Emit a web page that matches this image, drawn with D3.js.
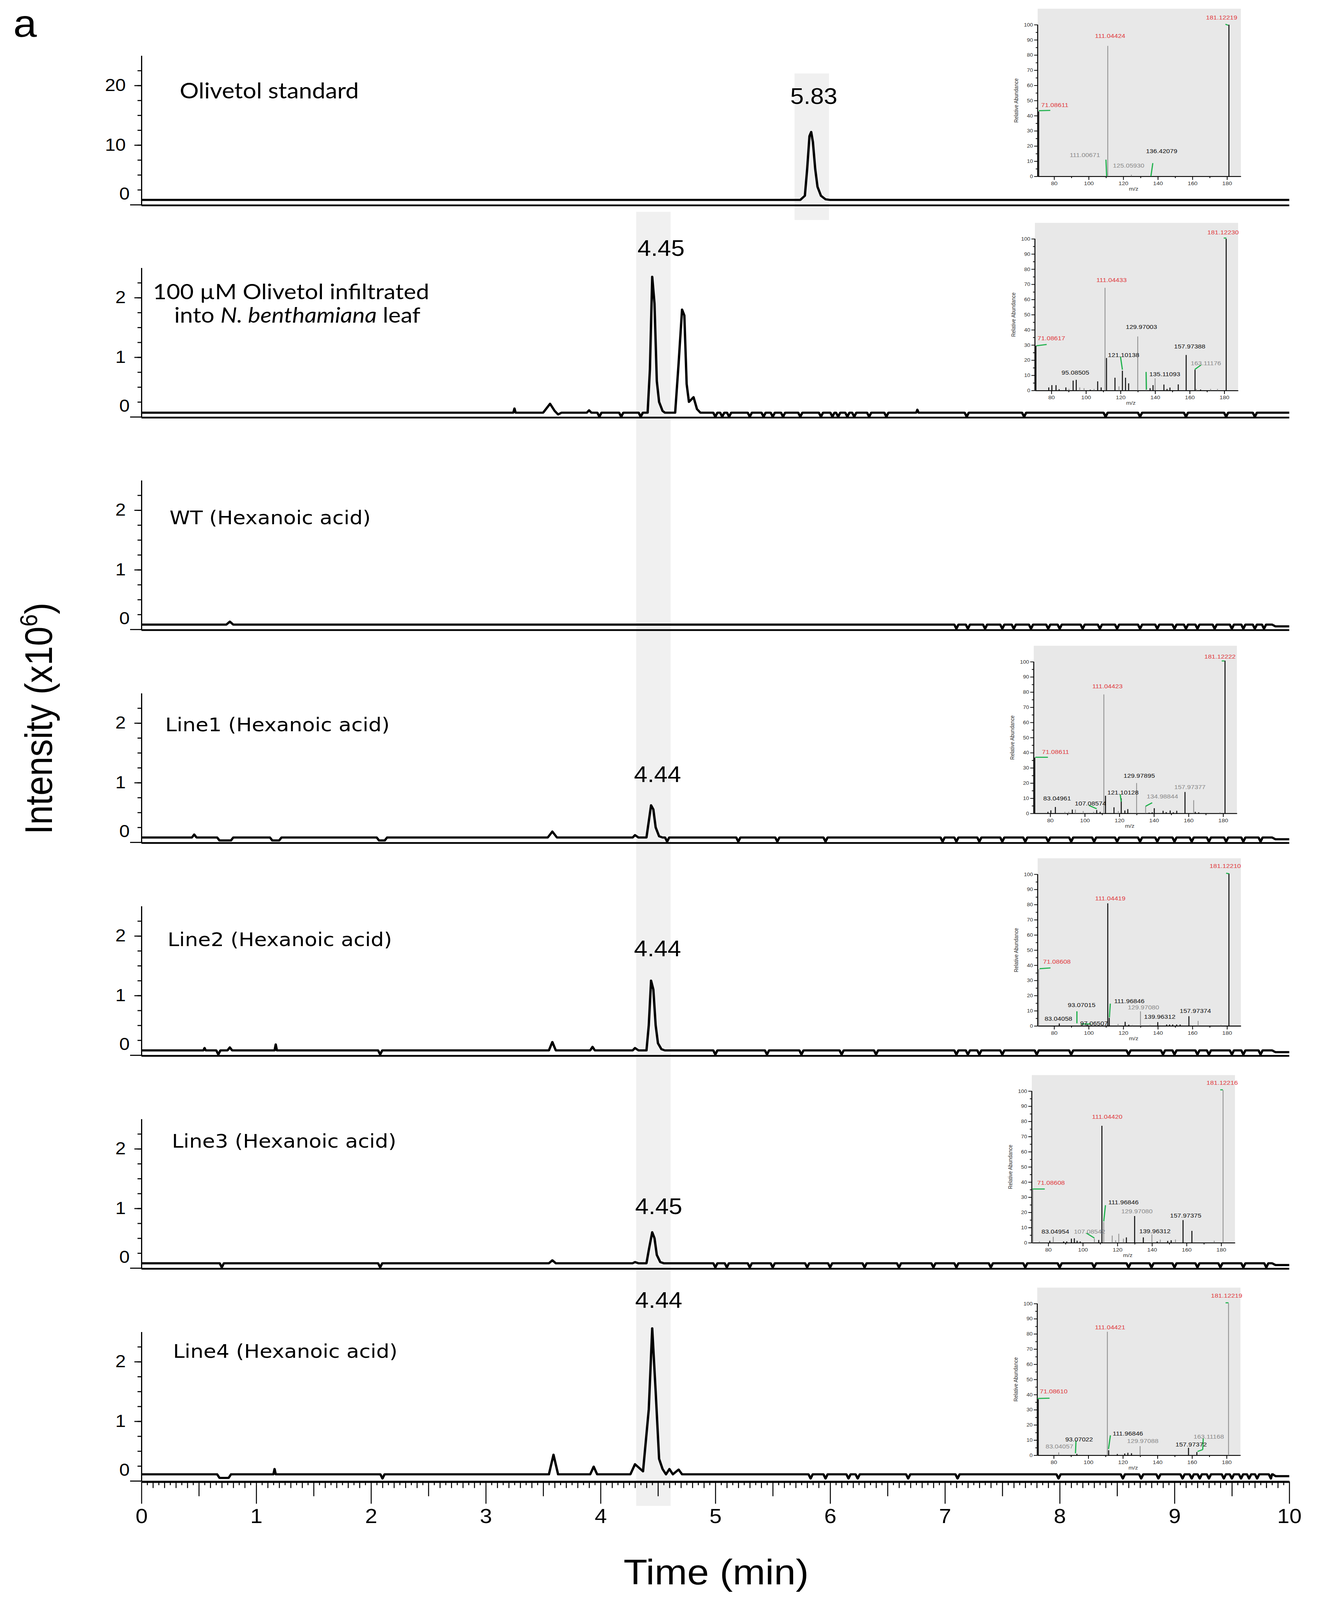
<!DOCTYPE html>
<html>
<head>
<meta charset="utf-8">
<script src="https://cdn.jsdelivr.net/npm/d3@7"></script>
<style>
  html, body { margin: 0; padding: 0; background: #fff; overflow: hidden; }
  svg { display: block; }
</style>
</head>
<body>
<div id="chart"></div>
<script>
// ---------------- data ----------------
const timeTicks = d3.range(0, 11);
const panelTitles = [
  "Olivetol standard",
  "100 µM Olivetol infiltrated",
  "WT (Hexanoic acid)",
  "Line1 (Hexanoic acid)",
  "Line2 (Hexanoic acid)",
  "Line3 (Hexanoic acid)",
  "Line4 (Hexanoic acid)"
];
const yMaxes = [25, 2.5, 2.5, 2.5, 2.5, 2.5, 2.5];
const yMinorSteps = [2.5, 0.25, 0.25, 0.25, 0.25, 0.25, 0.25];
const yLabelValues = [[0, 10, 20], [0, 1, 2], [0, 1, 2], [0, 1, 2], [0, 1, 2], [0, 1, 2], [0, 1, 2]];
const peakTimes = ["5.83", "4.45", null, "4.44", "4.44", "4.45", "4.44"];

// baseline level of each trace (x10^6)
const baseLevels = [0.8, 0.07, 0.08, 0.08, 0.08, 0.08, 0.11];

// explicit trace points [time, intensity]
const traceOlivetol = [[0, 0.8], [5.74, 0.8], [5.78, 1.5], [5.80, 6], [5.82, 11.5], [5.835, 12.2], [5.85, 10.5],
  [5.87, 6], [5.89, 3], [5.92, 1.5], [5.96, 0.9], [6.0, 0.8], [10, 0.8]];
const traceInfiltrated = [[0, 0.07], [3.24, 0.07], [3.25, 0.14], [3.26, 0.07], [3.50, 0.07], [3.56, 0.22], [3.60, 0.10],
  [3.63, 0.04], [3.66, 0.07], [3.88, 0.07], [3.90, 0.11], [3.92, 0.07],
  [4.41, 0.07], [4.43, 0.8], [4.45, 2.35], [4.47, 1.9], [4.49, 0.6], [4.51, 0.25], [4.54, 0.1], [4.56, 0.07],
  [4.65, 0.07], [4.68, 0.9], [4.71, 1.8], [4.73, 1.7], [4.75, 0.55], [4.77, 0.25], [4.81, 0.33], [4.84, 0.13], [4.87, 0.07],
  [6.75, 0.07], [6.76, 0.12], [6.77, 0.07], [10, 0.07]];
const traceWT = [[0, 0.08], [0.74, 0.08], [0.77, 0.13], [0.80, 0.08], [9.85, 0.08], [9.88, 0.05], [10, 0.05]];
const traceLine1 = [[0, 0.08], [0.44, 0.08], [0.46, 0.13], [0.48, 0.08], [0.66, 0.08], [0.68, 0.03], [0.78, 0.03], [0.80, 0.08],
  [1.12, 0.08], [1.14, 0.03], [1.20, 0.03], [1.22, 0.08], [2.05, 0.08], [2.07, 0.03], [2.12, 0.03], [2.14, 0.08],
  [3.54, 0.08], [3.58, 0.18], [3.62, 0.08], [4.28, 0.08], [4.30, 0.12], [4.33, 0.08],
  [4.40, 0.08], [4.42, 0.35], [4.44, 0.62], [4.46, 0.55], [4.48, 0.25], [4.51, 0.1], [4.54, 0.08],
  [9.85, 0.08], [9.88, 0.05], [10, 0.05]];
const traceLine2 = [[0, 0.08], [0.54, 0.08], [0.55, 0.12], [0.56, 0.08], [0.75, 0.08], [0.77, 0.13], [0.79, 0.08],
  [1.16, 0.08], [1.17, 0.18], [1.18, 0.08], [3.55, 0.08], [3.58, 0.22], [3.61, 0.08], [3.91, 0.08], [3.93, 0.14], [3.95, 0.08],
  [4.28, 0.08], [4.30, 0.12], [4.33, 0.08],
  [4.40, 0.08], [4.42, 0.5], [4.44, 1.25], [4.46, 1.1], [4.48, 0.5], [4.50, 0.2], [4.53, 0.1], [4.56, 0.08],
  [9.85, 0.08], [9.88, 0.05], [10, 0.05]];
const traceLine3 = [[0, 0.08], [3.55, 0.08], [3.58, 0.13], [3.61, 0.08], [4.28, 0.08], [4.30, 0.1], [4.33, 0.08],
  [4.40, 0.08], [4.42, 0.3], [4.45, 0.6], [4.47, 0.5], [4.49, 0.22], [4.52, 0.1], [4.55, 0.08],
  [9.85, 0.08], [9.88, 0.05], [10, 0.05]];
const traceLine4 = [[0, 0.11], [0.66, 0.11], [0.68, 0.05], [0.76, 0.05], [0.78, 0.11], [1.15, 0.11], [1.16, 0.2], [1.17, 0.11],
  [3.55, 0.11], [3.59, 0.44], [3.63, 0.11], [3.91, 0.11], [3.94, 0.24], [3.97, 0.11],
  [4.26, 0.11], [4.30, 0.28], [4.37, 0.16], [4.42, 1.2], [4.45, 2.56], [4.48, 1.5], [4.51, 0.37], [4.54, 0.2], [4.57, 0.11],
  [4.60, 0.2], [4.63, 0.11], [4.68, 0.19], [4.71, 0.11], [9.85, 0.11], [9.88, 0.08], [10, 0.08]];
const traces = [traceOlivetol, traceInfiltrated, traceWT, traceLine1, traceLine2, traceLine3, traceLine4];

// times of the small downward notches on the baselines
const notchesOlivetol = [];
const notchesInfiltrated = [3.99, 4.18, 4.35, 5.0, 5.06, 5.12, 5.3, 5.42, 5.5, 5.59, 5.74, 5.92, 6.02, 6.07, 6.15,
  6.21, 6.34, 6.49, 7.19, 7.69, 8.4, 8.7, 9.1, 9.45, 9.7];
const notchesWT = [7.1, 7.2, 7.35, 7.5, 7.6, 7.75, 7.9, 8.0, 8.2, 8.35, 8.5, 8.7, 8.85, 9.0, 9.1, 9.2, 9.35, 9.5, 9.6, 9.7, 9.78];
const notchesLine1 = [4.58, 5.2, 5.54, 5.96, 6.98, 7.1, 7.3, 7.5, 7.7, 7.9, 8.1, 8.3, 8.5, 8.7, 8.85, 9.0, 9.15, 9.3, 9.45, 9.6, 9.75];
const notchesLine2 = [0.67, 2.08, 5.0, 5.45, 5.75, 6.1, 6.4, 7.1, 7.2, 7.3, 7.5, 7.8, 8.1, 8.6, 8.9, 9.0, 9.2, 9.3, 9.5, 9.6, 9.75];
const notchesLine3 = [0.7, 2.08, 5.0, 5.1, 5.3, 5.5, 5.8, 6.0, 6.3, 6.6, 6.9, 7.1, 7.4, 7.7, 8.0, 8.3, 8.6, 8.8, 9.0, 9.2, 9.4, 9.6, 9.8];
const notchesLine4 = [2.10, 5.83, 5.96, 6.16, 6.24, 6.68, 7.11, 7.99, 8.55, 8.71, 8.86, 9.07, 9.15, 9.22, 9.3, 9.43,
  9.5, 9.58, 9.65, 9.72, 9.84];
const notches = [notchesOlivetol, notchesInfiltrated, notchesWT, notchesLine1, notchesLine2, notchesLine3, notchesLine4];

// retention-time windows shaded in grey
const bandWindows = [[5.69, 5.99], [4.31, 4.61]];

// MS2 spectra: peaks [m/z, relative abundance, colour k=black g=grey]
const peaks1 = [[71.086, 42.8, "k"], [111.044, 86, "g"], [124.7, 1, "g"], [181.122, 100, "k"]];
const peaks2 = [[71.086, 29.5, "k"], [78.5, 2, "k"], [80.3, 3.5, "k"], [82.7, 3.5, "k"], [84.5, 0.8, "k"], [88.4, 2, "k"],
  [90.2, 1, "g"], [92.6, 6.5, "k"], [94.4, 7, "k"], [96.4, 2, "g"], [98.9, 1.5, "g"], [102.5, 0.5, "k"], [104.7, 1, "g"],
  [106.8, 6, "k"], [108.8, 2, "k"], [111.044, 67.7, "g"], [111.9, 21.4, "k"], [116.8, 8.4, "k"], [119.1, 2.7, "g"],
  [121.1, 13, "k"], [122.9, 8.4, "k"], [124.7, 4.7, "k"], [129.97, 35.6, "g"], [134.8, 12.2, "g"], [137.1, 1.5, "k"],
  [138.8, 3.5, "k"], [140.0, 8, "g"], [145.1, 3.9, "k"], [146.9, 1, "k"], [148.6, 1.9, "k"], [153.4, 4, "k"],
  [157.97, 23.4, "k"], [163.1, 13.7, "k"], [163.8, 1, "g"], [166.3, 0.6, "k"], [172.1, 1, "g"], [176.1, 1, "g"],
  [181.122, 100, "k"]];
const peaks4 = [[71.086, 36.8, "k"], [78.7, 1, "k"], [80.4, 2, "k"], [83.0, 4.2, "k"], [88.5, 1, "g"], [90.7, 1, "g"],
  [92.8, 2.5, "k"], [94.6, 2.5, "g"], [99.1, 1.5, "g"], [105.1, 1, "g"], [106.9, 2.2, "k"], [108.9, 1, "k"],
  [111.044, 78.4, "g"], [112.0, 11.6, "k"], [116.9, 4, "k"], [119.4, 1.5, "g"], [121.1, 9.9, "k"], [123.2, 1.9, "k"],
  [124.9, 2.8, "k"], [129.98, 20, "g"], [135.2, 4.7, "g"], [137.2, 0.5, "k"], [139.0, 0.7, "k"], [140.2, 3.4, "k"],
  [145.3, 1.7, "k"], [147.1, 0.8, "k"], [149.4, 1.9, "k"], [151.2, 0.7, "k"], [153.2, 1.7, "k"], [157.97, 14.1, "k"],
  [163.0, 8.7, "g"], [163.9, 1, "k"], [165.9, 0.7, "k"], [178.2, 0.7, "g"], [181.122, 100.7, "k"]];
const peaks5 = [[71.086, 37.4, "g"], [83.0, 1.6, "k"], [99.1, 1, "k"], [111.044, 80.8, "k"], [111.9, 5.3, "k"],
  [117, 1.3, "g"], [121.1, 2.7, "k"], [123.2, 0.8, "k"], [125.3, 0.6, "g"], [129.97, 9.6, "g"], [135.5, 0.6, "g"],
  [139.96, 2.5, "k"], [145.1, 0.9, "k"], [146.8, 0.9, "k"], [148.6, 0.9, "k"], [150.9, 0.9, "k"], [152.9, 0.9, "k"],
  [157.97, 6.4, "k"], [163.3, 3.3, "g"], [176.5, 0.6, "g"], [181.122, 100.5, "k"]];
const peaks6 = [[71.086, 35.2, "g"], [74.9, 0.8, "g"], [80.9, 1.3, "k"], [82.9, 3.9, "g"], [88.9, 0.8, "k"], [90.7, 0.8, "k"],
  [93.4, 2.7, "k"], [95.1, 2.9, "k"], [96.7, 1.3, "k"], [98.5, 0.8, "k"], [106.7, 2.7, "g"], [109.2, 1.8, "k"],
  [111.044, 77.1, "k"], [112.1, 13.7, "g"], [117.0, 4.7, "g"], [119.0, 1.6, "g"], [120.8, 5.9, "g"], [123.5, 2.7, "g"],
  [125.2, 3.5, "k"], [129.97, 17.6, "k"], [135.0, 3.5, "k"], [139.96, 5.5, "g"], [143.0, 0.8, "k"], [144.8, 2, "g"],
  [149.1, 1.2, "k"], [151.1, 1.6, "k"], [153.6, 2.1, "g"], [157.97, 14.9, "k"], [163.1, 7.8, "k"], [176.0, 1.3, "g"],
  [181.122, 100.6, "g"]];
const peaks7 = [[71.086, 37, "k"], [82.9, 1.9, "g"], [93.4, 0.9, "k"], [111.044, 81.4, "g"], [111.8, 3.3, "k"],
  [116.8, 0.8, "k"], [121.1, 1.1, "k"], [122.9, 1.6, "k"], [125, 1.3, "k"], [129.97, 6, "g"], [157.97, 4.9, "k"],
  [162.8, 2.1, "k"], [181.122, 100.2, "g"]];

// spectrum annotations: [text, m/z of centre, abundance of centre, colour r/k/g]
const labels1 = [["71.08611", 80.4, 47, "r"], ["111.04424", 112.4, 92.8, "r"], ["111.00671", 97.8, 14, "g"],
  ["125.05930", 123.1, 7.1, "g"], ["136.42079", 142.2, 16.8, "k"], ["181.12219", 176.9, 104.7, "r"]];
const labels2 = [["71.08617", 80, 34.4, "r"], ["111.04433", 114.8, 73, "r"], ["129.97003", 132.1, 42.1, "k"],
  ["121.10138", 121.8, 23.4, "k"], ["95.08505", 93.9, 11.9, "k"], ["157.97388", 160, 29.1, "k"],
  ["163.11176", 169.4, 18.1, "g"], ["135.11093", 145.6, 10.8, "k"], ["181.12230", 179.3, 104.3, "r"]];
const labels4 = [["71.08611", 83.1, 40.6, "r"], ["111.04423", 113.1, 84, "r"], ["83.04961", 84, 9.9, "k"],
  ["107.08574", 103.3, 6.6, "k"], ["121.10128", 122.1, 13.7, "k"], ["129.97895", 131.5, 24.9, "k"],
  ["134.98844", 144.9, 11.3, "g"], ["157.97377", 160.8, 17.3, "g"], ["181.12222", 178.2, 103.4, "r"]];
const labels5 = [["71.08608", 81.6, 42.5, "r"], ["111.04419", 112.5, 84.2, "r"], ["83.04058", 82.5, 4.9, "k"],
  ["93.07015", 95.9, 13.9, "k"], ["97.06507", 103.1, 1.7, "k"], ["111.96846", 123.5, 16.5, "k"],
  ["129.97080", 131.7, 12.3, "g"], ["139.96312", 141.1, 6, "k"], ["157.97374", 161.7, 10, "k"],
  ["181.12210", 179, 105.4, "r"]];
const labels6 = [["71.08608", 81.6, 39.5, "r"], ["111.04420", 114.1, 83, "r"], ["83.04954", 84.1, 7.4, "k"],
  ["107.08542", 103.9, 7.4, "g"], ["111.96846", 123.5, 26.6, "k"], ["129.97080", 131.3, 20.8, "g"],
  ["139.96312", 141.7, 7.6, "k"], ["157.97375", 159.5, 18, "k"], ["181.12216", 180.6, 105.5, "r"]];
const labels7 = [["71.08610", 80, 42.2, "r"], ["111.04421", 112.6, 84.3, "r"], ["83.04057", 83.3, 5.8, "g"],
  ["93.07022", 94.7, 10.5, "k"], ["111.96846", 122.9, 14.4, "k"], ["129.97088", 131.5, 9.6, "g"],
  ["157.97372", 159.5, 7.1, "k"], ["163.11168", 169.7, 12.3, "g"], ["181.12219", 180, 105.4, "r"]];

// green assignment marks [mz1, ab1, mz2, ab2]
const green1 = [[71.2, 43.3, 77.8, 43.5], [110.0, 11, 110.4, 0], [136.0, 0, 137.1, 8.7], [179.1, 100.3, 180.7, 99.6]];
const green2 = [[71.4, 29.5, 77.3, 30.3], [120.0, 22.2, 121.1, 13.7], [134.8, 12.2, 135.0, 0.6],
  [163.0, 13.9, 166.7, 16.9], [179.7, 100.5, 181.2, 100.5]];
const green4 = [[71.4, 37, 78.7, 37], [102.4, 5.3, 106.9, 3], [120.5, 12.5, 121.1, 7.7], [135.2, 4.7, 139.0, 7],
  [179.2, 100.5, 180.8, 100.5]];
const green5 = [[71.6, 37.7, 77.9, 38.2], [93.2, 9.6, 93.2, 1.7], [95.5, 1.3, 101.3, 1.3], [112.5, 14.7, 112.0, 5.6],
  [179.5, 100.7, 181.2, 100.3]];
const green6 = [[70.9, 35.4, 78, 35.4], [102.1, 6.3, 106.7, 3.1], [112.1, 14.1, 113.1, 24.7], [179.5, 100.8, 181.0, 100.8]];
const green7 = [[70.6, 37.4, 77.6, 37.6], [92.9, 9.6, 92.6, 1.3], [111.7, 4.1, 112.8, 13.1], [163.2, 2.5, 166.2, 3.7],
  [166.2, 3.7, 166.5, 11.2], [179.4, 100.5, 181.1, 100.5]];

const spectra = [
  { panel: 0, peaks: peaks1, labels: labels1, green: green1 },
  { panel: 1, peaks: peaks2, labels: labels2, green: green2 },
  { panel: 3, peaks: peaks4, labels: labels4, green: green4 },
  { panel: 4, peaks: peaks5, labels: labels5, green: green5 },
  { panel: 5, peaks: peaks6, labels: labels6, green: green6 },
  { panel: 6, peaks: peaks7, labels: labels7, green: green7 }
];
const mzTicks = d3.range(80, 181, 20);

// ---------------- layout ----------------
// drawing units follow the 3371 x 4487 figure; the svg is fitted to the window
const W = 3371, H = 4487;
const axisX = 362;
const panelZero = [574, 1169, 1765, 2362, 2959, 3556, 4153];
const panelHeight = 418;
const titleAt = [[460, 276], [745, 839], [434, 1470], [423, 2051], [429, 2653], [440, 3219], [443, 3808]];
const peakLabelAt = [[2083, 291], [1692, 717], null, [1683, 2193], [1683, 2682], [1686, 3405], [1686, 3668]];
const insetAt = [[2656, 494.5], [2649, 1095], null, [2646, 2281], [2656, 2877], [2641, 3485], [2655, 4081]];
const bandY = [[206, 617], [594, 4223]];

const svg = d3.select("#chart").append("svg")
  .attr("width", window.innerWidth || W)
  .attr("height", window.innerHeight || H)
  .attr("viewBox", `0 0 ${W} ${H}`)
  .attr("preserveAspectRatio", "none")
  .style("font-family", "'Liberation Sans', Arial, sans-serif");

const x = d3.scaleLinear().domain([0, 10]).range([axisX, 3300]);

// shaded windows
svg.selectAll("rect.band").data(bandWindows).enter().append("rect")
  .attr("class", "band")
  .attr("x", d => x(d[0]))
  .attr("width", d => x(d[1]) - x(d[0]))
  .attr("y", (d, i) => bandY[i][0])
  .attr("height", (d, i) => bandY[i][1] - bandY[i][0])
  .attr("fill", "#f0f0f0");

svg.append("text").attr("x", 34).attr("y", 103)
  .attr("font-size", 108).text("a");

function buildTrace(points, notchTimes, base) {
  let all = points.slice();
  notchTimes.forEach(t => {
    all.push([t - 0.018, base], [t, base - 0.07], [t + 0.018, base]);
  });
  return all.sort((a, b) => a[0] - b[0]);
}

panelTitles.forEach((title, i) => {
  const y0 = panelZero[i];
  const y = d3.scaleLinear().domain([0, yMaxes[i]]).range([y0, y0 - panelHeight]);
  const g = svg.append("g");

  // minor ticks
  const minorVals = d3.range(yMinorSteps[i], yMaxes[i] - yMinorSteps[i] / 2, yMinorSteps[i]);
  g.append("g")
    .attr("transform", `translate(${axisX},0)`)
    .call(d3.axisLeft(y).tickValues(minorVals).tickSize(10).tickSizeOuter(0).tickFormat(""))
    .call(a => a.select(".domain").attr("stroke-width", 3))
    .call(a => a.selectAll(".tick line").attr("stroke-width", 3));

  // labelled ticks
  g.append("g")
    .attr("transform", `translate(${axisX},0)`)
    .call(d3.axisLeft(y).tickValues(yLabelValues[i]).tickSize(18).tickSizeOuter(0).tickPadding(22)
      .tickFormat(d3.format("d")))
    .call(a => a.select(".domain").remove())
    .call(a => a.selectAll(".tick line").attr("stroke-width", 3))
    .call(a => a.selectAll(".tick text").attr("font-size", 48).attr("fill", "#000")
      .attr("font-family", "'Liberation Sans', Arial, sans-serif"))
    .call(a => a.selectAll(".tick").filter(d => d === 0).select("line").attr("x2", -29))
    .call(a => a.selectAll(".tick").filter(d => d === 0).select("text").attr("x", -30).attr("y", -30));

  // trace
  const pts = buildTrace(traces[i], notches[i], baseLevels[i]);
  g.append("path")
    .datum(pts)
    .attr("fill", "none")
    .attr("stroke", "#000")
    .attr("stroke-width", 6)
    .attr("stroke-linejoin", "round")
    .attr("d", d3.line().x(d => x(d[0])).y(d => y(d[1])));

  // bottom line / time axis
  if (i < panelTitles.length - 1) {
    g.append("line")
      .attr("x1", axisX).attr("x2", x(10))
      .attr("y1", y0 + 2).attr("y2", y0 + 2)
      .attr("stroke", "#000").attr("stroke-width", 5);
  } else {
    const ax = g.append("g").attr("transform", `translate(0,${y0 + 2})`);
    const lv = [
      { vals: d3.range(0, 200).map(k => k * 0.05).filter(v => Math.round(v * 20) % 2 === 1), size: 10 },
      { vals: d3.range(0, 100).map(k => k * 0.1).filter(v => Math.round(v * 10) % 5 !== 0), size: 18 },
      { vals: d3.range(0, 10).map(k => k + 0.5), size: 41 }
    ];
    lv.forEach(l => {
      ax.append("g")
        .call(d3.axisBottom(x).tickValues(l.vals).tickSize(l.size).tickSizeOuter(0).tickFormat(""))
        .call(a => a.select(".domain").remove())
        .call(a => a.selectAll(".tick line").attr("stroke-width", 2.5));
    });
    ax.append("g")
      .call(d3.axisBottom(x).tickValues(timeTicks).tickSize(62).tickSizeOuter(0).tickPadding(14).tickFormat(d3.format("d")))
      .call(a => a.select(".domain").attr("stroke-width", 6))
      .call(a => a.selectAll(".tick line").attr("stroke-width", 2.5))
      .call(a => a.selectAll(".tick text").attr("font-size", 56).attr("fill", "#000")
        .attr("font-family", "'Liberation Sans', Arial, sans-serif"));
  }

  // title
  if (i === 1) {
    const t = g.append("text").attr("x", titleAt[i][0]).attr("y", titleAt[i][1])
      .attr("text-anchor", "middle").attr("font-family", "Lato, 'Open Sans', sans-serif").attr("font-size", 60);
    t.text(title);
    const t2 = g.append("text").attr("x", titleAt[i][0] + 16).attr("y", titleAt[i][1] + 66)
      .attr("text-anchor", "middle").attr("font-family", "Lato, 'Open Sans', sans-serif").attr("font-size", 60);
    t2.append("tspan").text("into ");
    t2.append("tspan").attr("font-style", "italic").text("N. benthamiana");
    t2.append("tspan").text(" leaf");
  } else if (i === 0) {
    g.append("text").attr("x", titleAt[i][0]).attr("y", titleAt[i][1])
      .attr("font-family", "Lato, 'Open Sans', sans-serif").attr("font-size", 61).text(title);
  } else {
    g.append("text").attr("x", titleAt[i][0]).attr("y", titleAt[i][1])
      .attr("font-family", "'DejaVu Sans', Verdana, sans-serif").attr("font-size", 53).text(title);
  }

  // retention time label
  if (peakTimes[i]) {
    g.append("text").attr("x", peakLabelAt[i][0]).attr("y", peakLabelAt[i][1])
      .attr("text-anchor", "middle").attr("font-size", 62).text(peakTimes[i]);
  }
});

// y-axis title
svg.append("text")
  .attr("transform", "translate(133,2015) rotate(-90)")
  .attr("text-anchor", "middle")
  .attr("font-size", 98)
  .call(t => {
    t.append("tspan").text("Intensity (x10");
    t.append("tspan").attr("font-size", 62).attr("dy", -38).text("6");
    t.append("tspan").attr("dy", 38).text(")");
  });

// x-axis title
svg.append("text").attr("x", 1833).attr("y", 4443)
  .attr("text-anchor", "middle").attr("font-size", 100).text("Time (min)");

// ---------------- MS2 insets ----------------
const colourOf = { k: "#111", g: "#8a8a8a", r: "#e03a3e" };
spectra.forEach(s => {
  const [left, base] = insetAt[s.panel];
  const mz = d3.scaleLinear().domain([70.5, 188]).range([left, left + 520]);
  const ab = d3.scaleLinear().domain([0, 110.5]).range([base, base - 470]);
  const g = svg.append("g").attr("font-family", "'Liberation Sans', Arial, sans-serif");

  g.append("rect")
    .attr("x", mz(70.5)).attr("y", ab(110.5))
    .attr("width", mz(188) - mz(70.5)).attr("height", ab(0) - ab(110.5))
    .attr("fill", "#e8e8e8");

  // axes
  g.append("g").attr("transform", `translate(0,${base})`)
    .call(d3.axisBottom(mz).tickValues(d3.range(90, 181, 20)).tickSize(5).tickSizeOuter(0).tickFormat(""))
    .call(a => a.select(".domain").remove())
    .call(a => a.selectAll(".tick line").attr("stroke-width", 2));
  g.append("g").attr("transform", `translate(0,${base})`)
    .call(d3.axisBottom(mz).tickValues(mzTicks).tickSize(10).tickSizeOuter(0).tickPadding(4))
    .call(a => a.select(".domain").attr("stroke-width", 2.5))
    .call(a => a.selectAll(".tick line").attr("stroke-width", 2))
    .call(a => a.selectAll(".tick text").attr("font-size", 15).attr("fill", "#333"));
  g.append("g").attr("transform", `translate(${left},0)`)
    .call(d3.axisLeft(ab).tickValues(d3.range(5, 100, 10)).tickSize(5).tickSizeOuter(0).tickFormat(""))
    .call(a => a.select(".domain").remove())
    .call(a => a.selectAll(".tick line").attr("stroke-width", 2));
  g.append("g").attr("transform", `translate(${left},0)`)
    .call(d3.axisLeft(ab).tickValues(d3.range(0, 101, 10)).tickSize(9).tickSizeOuter(0).tickPadding(3))
    .call(a => a.select(".domain").attr("stroke-width", 2.5).attr("d", `M0,${ab(0)}V${ab(100)}`))
    .call(a => a.selectAll(".tick line").attr("stroke-width", 2))
    .call(a => a.selectAll(".tick text").attr("font-size", 14).attr("fill", "#333"));

  g.append("text").attr("x", mz(126)).attr("y", base + 40)
    .attr("text-anchor", "middle").attr("font-size", 15).attr("fill", "#333").text("m/z");
  g.append("text")
    .attr("transform", `translate(${left - 50},${ab(50)}) rotate(-90)`)
    .attr("text-anchor", "middle").attr("font-size", 14).attr("fill", "#333")
    .text("Relative Abundance");

  // sticks
  g.selectAll("line.peak").data(s.peaks).enter().append("line")
    .attr("x1", d => mz(d[0])).attr("x2", d => mz(d[0]))
    .attr("y1", ab(0)).attr("y2", d => ab(d[1]))
    .attr("stroke", d => colourOf[d[2]])
    .attr("stroke-width", d => d[2] === "k" ? 2.6 : 2);

  // green marks
  g.selectAll("line.green").data(s.green).enter().append("line")
    .attr("x1", d => mz(d[0])).attr("y1", d => ab(d[1]))
    .attr("x2", d => mz(d[2])).attr("y2", d => ab(d[3]))
    .attr("stroke", "#1fb14c").attr("stroke-width", 3);

  // labels
  g.selectAll("text.lab").data(s.labels).enter().append("text")
    .attr("x", d => mz(d[1])).attr("y", d => ab(d[2]))
    .attr("dy", "0.35em")
    .attr("text-anchor", "middle")
    .attr("font-size", 17)
    .attr("fill", d => colourOf[d[3]])
    .text(d => d[0]);
});
</script>
</body>
</html>
